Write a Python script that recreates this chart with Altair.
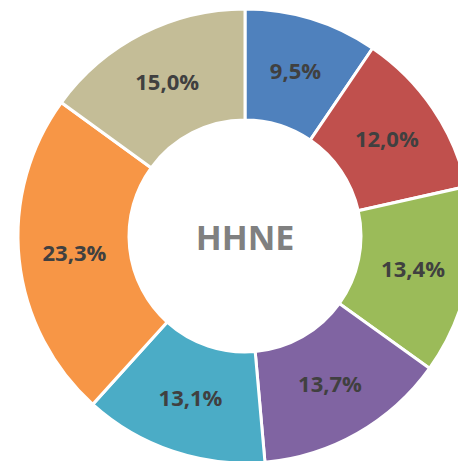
import altair as alt
import pandas as pd

categories = ["A", "B", "C", "D", "E", "F", "G"]
values = [9.5, 12.0, 13.4, 13.7, 13.1, 23.3, 15.0]
labels = ["9,5%", "12,0%", "13,4%", "13,7%", "13,1%", "23,3%", "15,0%"]
colors = ["#4F81BD", "#C0504D", "#9BBB59", "#8064A2", "#4BACC6", "#F79646", "#C4BD97"]
center_title = "HHNE"

df = pd.DataFrame({"cat": categories, "value": values, "label": labels,
                   "order": list(range(len(categories)))})

cx, cy = 245, 236
outer, inner = 227, 116

base = alt.Chart(df).encode(
    theta=alt.Theta("value:Q", stack=True),
    order=alt.Order("order:Q", sort="ascending"),
)

arcs = base.mark_arc(radius=outer, radius2=inner, stroke="white", strokeWidth=3).encode(
    color=alt.Color("cat:N", scale=alt.Scale(domain=categories, range=colors), legend=None),
    x=alt.value(cx), y=alt.value(cy),
)

text = base.mark_text(radius=(outer + inner) / 2, font="Open Sans", fontWeight="bold",
                      fontSize=22, color="#404040", baseline="middle", align="center").encode(
    text="label:N",
    x=alt.value(cx), y=alt.value(cy),
)

center = alt.Chart(pd.DataFrame({"t": [center_title]})).mark_text(
    font="Open Sans", fontWeight="bold", fontSize=34, color="#808080",
    baseline="middle", align="center").encode(
    text="t:N", x=alt.value(cx), y=alt.value(cy + 4))

chart = alt.layer(arcs, text, center).properties(
    width=458, height=461, padding=0, autosize=alt.AutoSizeParams(type="none"),
).configure_view(stroke=None)

chart.save("out.html", embed_options={"renderer": "svg", "actions": False})
